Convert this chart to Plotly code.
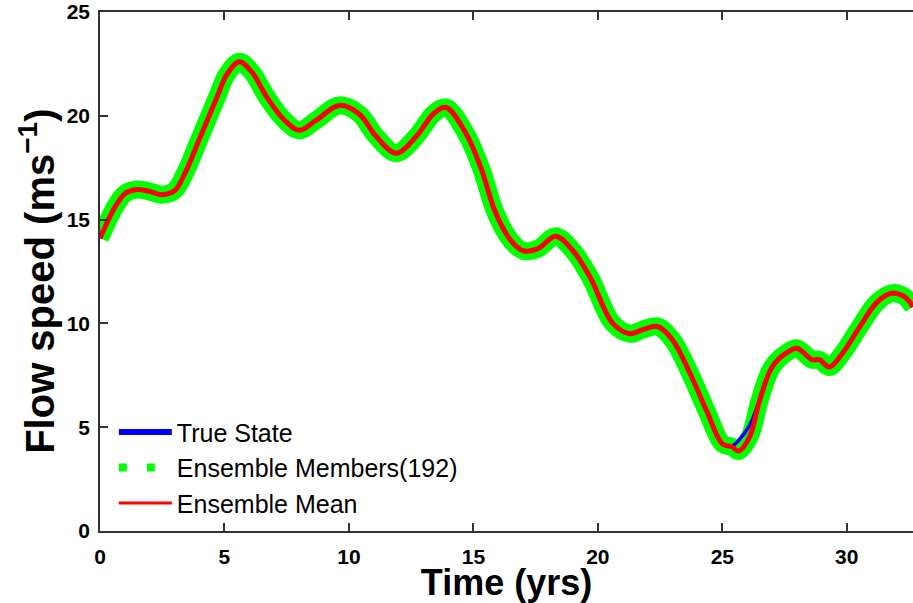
import plotly.graph_objects as go

# ---- data ----
time_yrs = [0.0, 0.3, 0.6, 1.0, 1.5, 2.0, 2.5, 3.0, 3.4, 4.0, 4.7, 5.1, 5.6, 6.1, 6.7,
            7.4, 8.0, 8.7, 9.6, 10.4, 11.1, 11.9, 12.7, 13.4, 13.9, 14.7, 15.3, 15.9,
            16.5, 17.0, 17.6, 18.3, 19.0, 19.7, 20.6, 21.3, 21.8, 22.4, 23.0, 23.7,
            24.4, 25.0, 25.4, 25.65, 26.1, 26.5, 27.0, 27.6, 28.0, 28.6, 28.9, 29.3,
            29.85, 30.5, 31.2, 31.8, 32.3, 32.66]
ensemble_mean = [14.1, 14.9, 15.6, 16.25, 16.45, 16.35, 16.2, 16.4, 17.2, 18.9, 20.9, 22.0,
                 22.6, 22.1, 20.9, 19.8, 19.3, 19.8, 20.5, 20.1, 19.0, 18.2, 19.0, 20.1,
                 20.4, 19.15, 17.5, 15.3, 14.0, 13.5, 13.6, 14.2, 13.5, 12.2, 10.0, 9.5,
                 9.7, 9.85, 9.2, 7.6, 5.7, 4.2, 4.05, 3.85, 4.55, 6.3, 7.9, 8.6, 8.8,
                 8.25, 8.25, 7.9, 8.6, 9.8, 11.0, 11.45, 11.3, 10.8]
true_state = [14.1, 14.9, 15.6, 16.25, 16.45, 16.35, 16.2, 16.4, 17.2, 18.9, 20.9, 22.0,
              22.6, 22.1, 20.9, 19.8, 19.3, 19.8, 20.5, 20.1, 19.0, 18.2, 19.0, 20.1,
              20.4, 19.15, 17.5, 15.3, 14.0, 13.5, 13.6, 14.2, 13.5, 12.2, 10.0, 9.5,
              9.7, 9.85, 9.2, 7.6, 5.7, 4.2, 4.1, 4.35, 5.1, 6.3, 7.9, 8.6, 8.8,
              8.25, 8.25, 7.9, 8.6, 9.8, 11.0, 11.45, 11.3, 10.8]
x_ticks = [0, 5, 10, 15, 20, 25, 30]
y_ticks = [0, 5, 10, 15, 20, 25]
legend_names = ["True State", "Ensemble Members(192)", "Ensemble Mean"]
x_title = "Time (yrs)"
y_title = "Flow speed (ms<sup>−1</sup>)"

FONT = "Liberation Sans, Arial, Helvetica, sans-serif"

fig = go.Figure()
# ensemble members (drawn as a wide band)
fig.add_trace(go.Scatter(x=time_yrs, y=ensemble_mean, mode="lines",
                         line=dict(color="#00ff00", width=18, shape="spline"),
                         showlegend=False, hoverinfo="skip"))
fig.add_trace(go.Scatter(x=time_yrs, y=true_state, mode="lines",
                         line=dict(color="#0000ff", width=3.5, shape="spline"),
                         showlegend=False))
fig.add_trace(go.Scatter(x=time_yrs, y=ensemble_mean, mode="lines",
                         line=dict(color="#ff0000", width=5, shape="spline"),
                         showlegend=False))
# legend entries
fig.add_trace(go.Scatter(x=[None], y=[None], mode="lines", name=legend_names[0],
                         line=dict(color="#0000ff", width=6)))
fig.add_trace(go.Scatter(x=[None], y=[None], mode="lines", name=legend_names[1],
                         line=dict(color="#00ff00", width=8, dash="8px,20px")))
fig.add_trace(go.Scatter(x=[None], y=[None], mode="lines", name=legend_names[2],
                         line=dict(color="#ff0000", width=3)))

axis_common = dict(showline=True, linecolor="#333333", linewidth=1.5,
                   ticks="inside", ticklen=8, tickwidth=1.5, tickcolor="#333333",
                   showgrid=False, zeroline=False,
                   tickfont=dict(family=FONT, size=21, color="black", weight="bold"))

fig.update_layout(
    width=913, height=603,
    margin=dict(l=100, r=0, t=12, b=72),
    paper_bgcolor="white", plot_bgcolor="white",
    font=dict(family=FONT, color="black"),
    xaxis=dict(range=[0, 32.66], tickvals=x_ticks, ticklabelstandoff=6, mirror="ticks",
               title=dict(text=x_title, standoff=4,
                          font=dict(family=FONT, size=36, weight="bold", color="black")),
               **axis_common),
    yaxis=dict(range=[0, 25], tickvals=y_ticks, ticklabelstandoff=4, mirror=False,
               **axis_common),
    legend=dict(x=0.017, y=0.009, xanchor="left", yanchor="bottom",
                bgcolor="rgba(0,0,0,0)", itemwidth=53,
                font=dict(family=FONT, size=25, color="black"),
                tracegroupgap=0),
    showlegend=True,
)
fig.add_annotation(text=y_title, textangle=-90, showarrow=False,
                   xref="paper", yref="paper", x=-0.0775, y=0.482,
                   xanchor="center", yanchor="middle",
                   font=dict(family=FONT, size=40, weight="bold", color="black"))

fig.write_html("out.html")
